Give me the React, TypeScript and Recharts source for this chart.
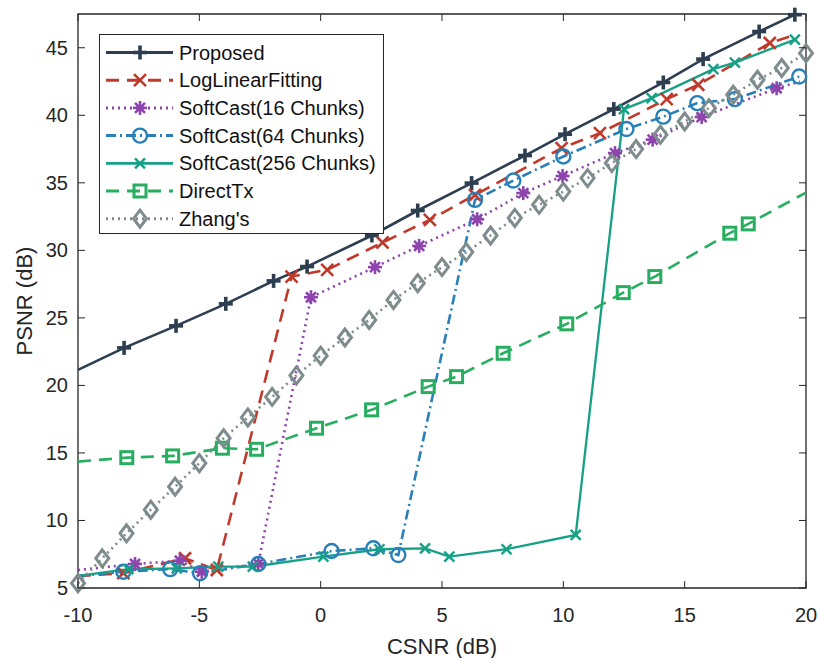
import React from 'react';
import { LineChart, Line, XAxis, YAxis, ReferenceArea, Legend, Label } from 'recharts';

// Axis ticks
const csnrTicks = [-10, -5, 0, 5, 10, 15, 20];
const psnrTicks = [5, 10, 15, 20, 25, 30, 35, 40, 45];

// Proposed
const proposedX = [-10, -8.1, -5.96, -3.91, -1.94, -0.56, 2.11, 4.0, 6.22, 8.42, 10.07, 12.08, 14.12, 15.76, 18.07, 19.54];
const proposedY = [21.15, 22.78, 24.41, 26.04, 27.74, 28.8, 31.1, 32.95, 34.98, 37.02, 38.6, 40.46, 42.43, 44.16, 46.2, 47.45];

// LogLinearFitting
const logLinearX = [-10, -8.13, -5.59, -4.28, -1.2, 0.27, 2.55, 4.5, 6.36, 9.93, 11.51, 14.26, 15.56, 18.51, 19.6];
const logLinearY = [5.88, 6.1, 7.2, 6.33, 28.06, 28.56, 30.58, 32.26, 34.1, 37.57, 38.68, 41.2, 42.26, 45.35, 46.0];

// SoftCast, 16 chunks
const sc16X = [-10, -7.65, -5.8, -4.9, -2.57, -0.4, 2.24, 4.06, 6.45, 8.35, 9.97, 12.13, 13.68, 15.7, 18.79, 19.75];
const sc16Y = [6.33, 6.78, 7.02, 6.2, 6.8, 26.53, 28.76, 30.33, 32.3, 34.24, 35.5, 37.2, 38.2, 39.87, 42.0, 42.5];

// SoftCast, 64 chunks
const sc64X = [-10, -8.13, -6.2, -4.97, -2.57, 0.45, 2.17, 3.2, 6.36, 7.94, 10.0, 12.6, 14.12, 15.52, 17.07, 19.72];
const sc64Y = [5.9, 6.2, 6.4, 6.09, 6.78, 7.74, 7.94, 7.44, 33.74, 35.17, 36.95, 38.98, 39.9, 40.9, 41.2, 42.87];

// SoftCast, 256 chunks
const sc256X = [-10, -7.93, -5.93, -4.22, -2.8, 0.11, 2.42, 4.3, 5.3, 7.66, 10.51, 12.5, 13.64, 16.18, 17.07, 19.54];
const sc256Y = [5.9, 6.39, 6.46, 6.58, 6.58, 7.32, 7.87, 7.94, 7.32, 7.87, 8.93, 40.46, 41.27, 43.42, 43.9, 45.6];

// DirectTx
const directX = [-10, -7.99, -6.1, -4.05, -2.64, -0.17, 2.1, 4.43, 5.6, 7.52, 10.14, 12.47, 13.77, 16.86, 17.62, 20];
const directY = [14.36, 14.65, 14.78, 15.35, 15.27, 16.83, 18.19, 19.91, 20.65, 22.38, 24.56, 26.87, 28.06, 31.27, 31.96, 34.28];

// Zhang's
const zhangX = [-10, -9, -8, -7, -6, -5, -4, -3, -2, -1, 0, 1, 2, 3, 4, 5, 6, 7, 8, 9, 10, 11, 12, 13, 14, 15, 16, 17, 18, 19, 20];
const zhangY = [5.35, 7.2, 9.05, 10.8, 12.5, 14.24, 16.09, 17.63, 19.15, 20.74, 22.2, 23.55, 24.85, 26.33, 27.57, 28.76, 29.87, 31.1, 32.4, 33.37, 34.35, 35.35, 36.46, 37.5, 38.56, 39.54, 40.53, 41.52, 42.63, 43.5, 44.6];

const zip = (xs: number[], ys: number[]) => xs.map((x, i) => ({ x, y: ys[i] }));

type Shape = 'plus' | 'cross' | 'star' | 'circle' | 'xsmall' | 'square' | 'diamond';

interface Series {
  name: string;
  data: { x: number; y: number }[];
  color: string;
  dash?: string;
  width: number;
  shape: Shape;
  noMarker: number[];
}

const series: Series[] = [
  { name: 'Proposed', data: zip(proposedX, proposedY), color: '#2c3e50', width: 2.6, shape: 'plus', noMarker: [0] },
  { name: 'LogLinearFitting', data: zip(logLinearX, logLinearY), color: '#c0392b', dash: '13 8', width: 2.6, shape: 'cross', noMarker: [0, logLinearX.length - 1] },
  { name: 'SoftCast(16 Chunks)', data: zip(sc16X, sc16Y), color: '#8e44ad', dash: '2 4', width: 2.6, shape: 'star', noMarker: [0, sc16X.length - 1] },
  { name: 'SoftCast(64 Chunks)', data: zip(sc64X, sc64Y), color: '#2980b9', dash: '10 4 2 4', width: 2.6, shape: 'circle', noMarker: [0] },
  { name: 'SoftCast(256 Chunks)', data: zip(sc256X, sc256Y), color: '#16a085', width: 2.3, shape: 'xsmall', noMarker: [0] },
  { name: 'DirectTx', data: zip(directX, directY), color: '#27ae60', dash: '13 8', width: 2.6, shape: 'square', noMarker: [0, directX.length - 1] },
  { name: "Zhang's", data: zip(zhangX, zhangY), color: '#7f8c8d', dash: '2 4', width: 2.6, shape: 'diamond', noMarker: [] },
];

const FONT = '"Liberation Sans", Arial, sans-serif';
const AXIS_COLOR = '#262626';
const W = 819;
const H = 658;
const M = { top: 14, right: 13, left: 0, bottom: 0 };
const Y_AXIS_W = 78;
const X_AXIS_H = 70;
const PLOT_W = W - M.left - M.right - Y_AXIS_W;
const PLOT_H = H - M.top - M.bottom - X_AXIS_H;
const TICK_LEN = 7;

function Marker({ shape, cx, cy, color }: { shape: Shape; cx: number; cy: number; color: string }) {
  switch (shape) {
    case 'plus':
      return (
        <g stroke={color} strokeWidth={3.6}>
          <line x1={cx - 7} y1={cy} x2={cx + 7} y2={cy} />
          <line x1={cx} y1={cy - 7} x2={cx} y2={cy + 7} />
        </g>
      );
    case 'cross':
      return (
        <g stroke={color} strokeWidth={2.6}>
          <line x1={cx - 6} y1={cy - 6} x2={cx + 6} y2={cy + 6} />
          <line x1={cx - 6} y1={cy + 6} x2={cx + 6} y2={cy - 6} />
        </g>
      );
    case 'xsmall':
      return (
        <g stroke={color} strokeWidth={2.4}>
          <line x1={cx - 5} y1={cy - 5} x2={cx + 5} y2={cy + 5} />
          <line x1={cx - 5} y1={cy + 5} x2={cx + 5} y2={cy - 5} />
        </g>
      );
    case 'star':
      return (
        <g stroke={color} strokeWidth={2.6}>
          <line x1={cx - 7} y1={cy} x2={cx + 7} y2={cy} />
          <line x1={cx} y1={cy - 7} x2={cx} y2={cy + 7} />
          <line x1={cx - 5} y1={cy - 5} x2={cx + 5} y2={cy + 5} />
          <line x1={cx - 5} y1={cy + 5} x2={cx + 5} y2={cy - 5} />
          <circle cx={cx} cy={cy} r={3.5} fill={color} stroke="none" />
        </g>
      );
    case 'circle':
      return <circle cx={cx} cy={cy} r={7} fill="none" stroke={color} strokeWidth={2.4} />;
    case 'square':
      return <rect x={cx - 6} y={cy - 6} width={12} height={12} fill="none" stroke={color} strokeWidth={3} />;
    case 'diamond':
      return (
        <polygon
          points={`${cx},${cy - 8.5} ${cx + 6.5},${cy} ${cx},${cy + 8.5} ${cx - 6.5},${cy}`}
          fill="none"
          stroke={color}
          strokeWidth={3}
        />
      );
    default:
      return null;
  }
}

const makeDot = (s: Series) => (props: any) => {
  const { cx, cy, index } = props;
  const key = `${s.name}-${index}`;
  if (s.noMarker.includes(index) || cx == null || cy == null) return <g key={key} />;
  return (
    <g key={key}>
      <Marker shape={s.shape} cx={cx} cy={cy} color={s.color} />
    </g>
  );
};

// Bottom tick labels plus inward tick marks on the bottom and top edges
const XTick = (props: any) => {
  const { x, y, payload } = props;
  return (
    <g>
      <line x1={x} y1={y} x2={x} y2={y - TICK_LEN} stroke={AXIS_COLOR} strokeWidth={1} />
      <line x1={x} y1={y - PLOT_H} x2={x} y2={y - PLOT_H + TICK_LEN} stroke={AXIS_COLOR} strokeWidth={1} />
      <text x={x} y={y + 34} textAnchor="middle" fontFamily={FONT} fontSize={20} fill={AXIS_COLOR}>
        {payload.value}
      </text>
    </g>
  );
};

// Left tick labels plus inward tick marks on the left and right edges
const YTick = (props: any) => {
  const { x, y, payload } = props;
  return (
    <g>
      <line x1={x} y1={y} x2={x + TICK_LEN} y2={y} stroke={AXIS_COLOR} strokeWidth={1} />
      <line x1={x + PLOT_W} y1={y} x2={x + PLOT_W - TICK_LEN} y2={y} stroke={AXIS_COLOR} strokeWidth={1} />
      <text x={x - 10} y={y + 7} textAnchor="end" fontFamily={FONT} fontSize={20} fill={AXIS_COLOR}>
        {payload.value}
      </text>
    </g>
  );
};

const LEGEND_W = 285;
const LEGEND_H = 200;
const ROW_H = 27.7;

const LegendBox = () => (
  <div
    style={{
      width: LEGEND_W,
      height: LEGEND_H,
      boxSizing: 'border-box',
      border: `1.3px solid ${AXIS_COLOR}`,
      background: '#fff',
    }}
  >
    <svg width={LEGEND_W - 3} height={LEGEND_H - 3} style={{ display: 'block' }}>
      {series.map((s, i) => {
        const cy = 17.5 + i * ROW_H;
        return (
          <g key={s.name}>
            <line x1={6} y1={cy} x2={73} y2={cy} stroke={s.color} strokeWidth={s.width + 0.4} strokeDasharray={s.dash} />
            <Marker shape={s.shape} cx={40} cy={cy} color={s.color} />
            <text x={79} y={cy + 7} fontFamily={FONT} fontSize={20} fill="#111">
              {s.name}
            </text>
          </g>
        );
      })}
    </svg>
  </div>
);

export default function App() {
  return (
    <div style={{ position: 'absolute', left: 0, top: 0, width: W, height: H, background: '#fff' }}>
      <LineChart width={W} height={H} margin={M}>
        <XAxis
          type="number"
          dataKey="x"
          domain={[-10, 20]}
          ticks={csnrTicks}
          interval={0}
          height={X_AXIS_H}
          tickSize={0}
          tickMargin={0}
          tickLine={false}
          axisLine={false}
          tick={<XTick />}
        >
          <Label
            value="CSNR (dB)"
            position="insideBottom"
            offset={4}
            style={{ fontFamily: FONT, fontSize: 22, fill: AXIS_COLOR }}
          />
        </XAxis>
        <YAxis
          type="number"
          dataKey="y"
          domain={[5, 47.5]}
          ticks={psnrTicks}
          interval={0}
          width={Y_AXIS_W}
          tickSize={0}
          tickMargin={0}
          tickLine={false}
          axisLine={false}
          tick={<YTick />}
        >
          <Label
            content={(p: any) => {
              const vb = p.viewBox || { x: 0, y: M.top, width: Y_AXIS_W, height: PLOT_H };
              const cx = vb.x + 32;
              const cy = vb.y + vb.height / 2;
              return (
                <text
                  x={cx}
                  y={cy}
                  transform={`rotate(-90 ${cx} ${cy})`}
                  textAnchor="middle"
                  fontFamily={FONT}
                  fontSize={22}
                  fill={AXIS_COLOR}
                >
                  PSNR (dB)
                </text>
              );
            }}
          />
        </YAxis>
        <ReferenceArea
          x1={-10}
          x2={20}
          y1={5}
          y2={47.5}
          fill="none"
          fillOpacity={0}
          stroke={AXIS_COLOR}
          strokeWidth={1.3}
          ifOverflow="visible"
        />
        {series.map((s) => (
          <Line
            key={s.name}
            name={s.name}
            data={s.data}
            dataKey="y"
            type="linear"
            stroke={s.color}
            strokeWidth={s.width}
            strokeDasharray={s.dash}
            dot={makeDot(s)}
            activeDot={false}
            isAnimationActive={false}
          />
        ))}
        <Legend
          layout="vertical"
          align="center"
          verticalAlign="middle"
          wrapperStyle={{ left: 99, top: 34, width: LEGEND_W, height: LEGEND_H }}
          content={<LegendBox />}
        />
      </LineChart>
    </div>
  );
}
